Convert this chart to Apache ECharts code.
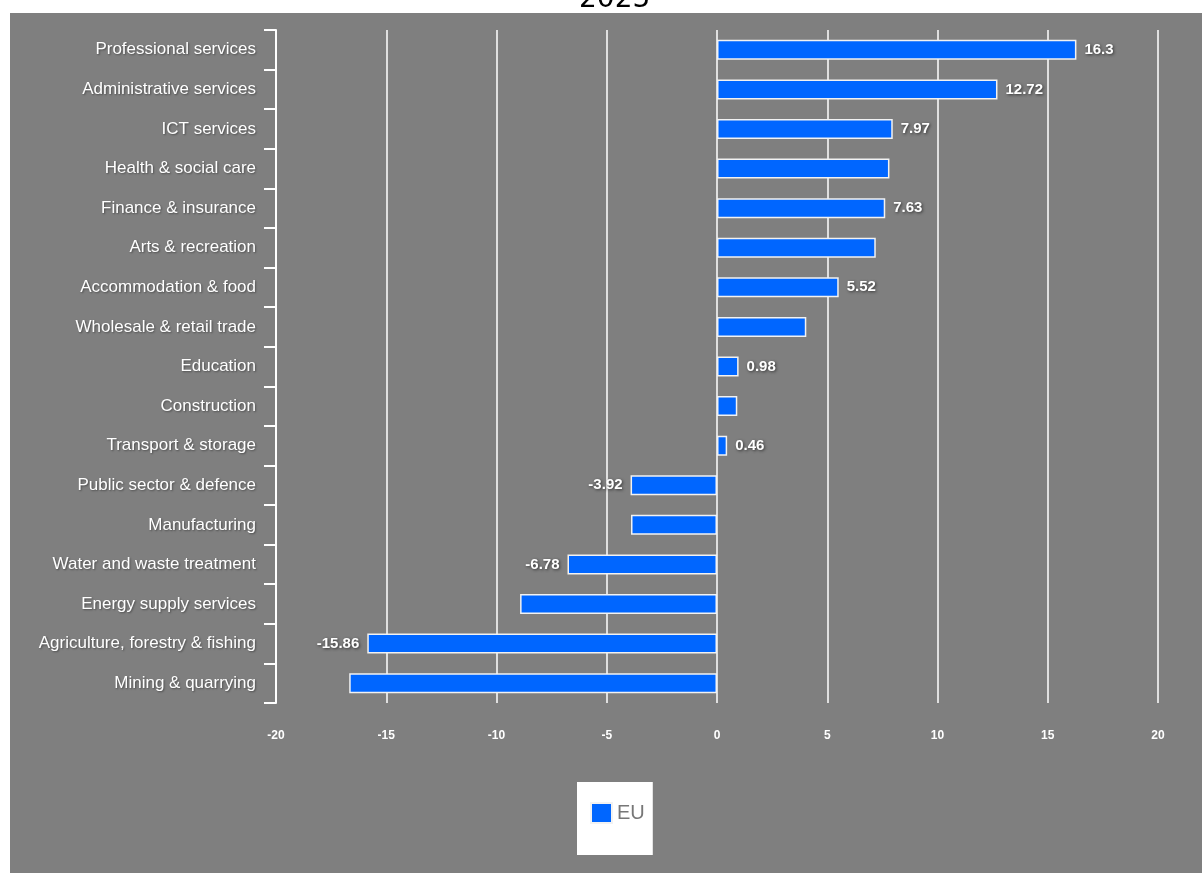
<!DOCTYPE html>
<html>
<head>
<meta charset="utf-8">
<script src="https://cdn.jsdelivr.net/npm/echarts@6/dist/echarts.min.js"></script>
<style>
  html, body { margin: 0; padding: 0; background: #ffffff; overflow: hidden; }
  #panel { position: absolute; left: 10px; top: 13px; width: 1192px; height: 860px; background: #7f7f7f; }
  #chart { position: absolute; left: 0; top: 0; width: 1202px; height: 873px; }
</style>
</head>
<body>
<div id="panel"></div>
<div id="chart"></div>
<script>
// Employment change by sector, EU, 2025 (%)
const sectors = [
  'Professional services', 'Administrative services', 'ICT services', 'Health & social care',
  'Finance & insurance', 'Arts & recreation', 'Accommodation & food', 'Wholesale & retail trade',
  'Education', 'Construction', 'Transport & storage', 'Public sector & defence',
  'Manufacturing', 'Water and waste treatment', 'Energy supply services',
  'Agriculture, forestry & fishing', 'Mining & quarrying'
];
const euValues = [16.3, 12.72, 7.97, 7.82, 7.63, 7.2, 5.52, 4.05, 0.98, 0.92, 0.46, -3.92, -3.9, -6.78, -8.93, -15.86, -16.68];
// which bars carry a value label
const labelled = [true, true, true, false, true, false, true, false, true, false, true, true, false, true, false, true, false];
const xTicks = [-20, -15, -10, -5, 0, 5, 10, 15, 20];

const family = '"Liberation Sans", Arial, sans-serif';

const chart = echarts.init(document.getElementById('chart'), null, { renderer: 'canvas' });

const barData = euValues.map((v, i) => ({
  value: v,
  label: {
    show: labelled[i],
    position: v < 0 ? 'left' : 'right'
  }
}));

chart.setOption({
  backgroundColor: 'transparent',
  animation: false,
  title: {
    text: '2025',
    left: 574,
    top: -19,
    textStyle: { color: '#000', fontSize: 28, fontWeight: 'normal', fontFamily: '"DejaVu Sans", sans-serif' }
  },
  legend: {
    data: ['EU'],
    left: 577,
    top: 782,
    backgroundColor: '#ffffff',
    padding: [20, 8, 31, 13],
    itemWidth: 21,
    itemHeight: 20,
    itemGap: 0,
    icon: 'rect',
    textStyle: { color: '#777', fontSize: 20, fontFamily: family, padding: [3, 0, 0, 0] }
  },
  grid: { left: 276, right: 44, top: 30, bottom: 170, containLabel: false },
  xAxis: {
    type: 'value',
    min: xTicks[0],
    max: xTicks[xTicks.length - 1],
    interval: 5,
    axisLine: { show: false },
    axisTick: { show: false },
    splitLine: { show: true, lineStyle: { color: '#ffffff', width: 1.5 } },
    axisLabel: {
      color: '#ffffff',
      fontSize: 12,
      fontWeight: 'bold',
      fontFamily: family,
      margin: 27
    }
  },
  yAxis: {
    type: 'category',
    data: sectors,
    inverse: true,
    axisLine: { show: true, onZero: false, lineStyle: { color: '#ffffff', width: 2 } },
    axisTick: { show: true, length: 12, lineStyle: { color: '#ffffff', width: 2 } },
    splitLine: { show: false },
    axisLabel: {
      color: '#ffffff',
      fontSize: 17,
      fontFamily: family,
      margin: 20,
      textShadowColor: 'rgba(0,0,0,0.4)',
      textShadowBlur: 2,
      textShadowOffsetX: 1,
      textShadowOffsetY: 1
    }
  },
  series: [{
    name: 'EU',
    type: 'bar',
    data: barData,
    barWidth: 20,
    itemStyle: { color: '#0066ff', borderColor: '#f2f2f2', borderWidth: 1.5 },
    label: {
      color: '#ffffff',
      fontSize: 15,
      fontWeight: 'bold',
      fontFamily: family,
      distance: 8,
      textShadowColor: 'rgba(40,40,40,0.85)',
      textShadowBlur: 3,
      textShadowOffsetX: 1,
      textShadowOffsetY: 1
    }
  }]
});
</script>
</body>
</html>
